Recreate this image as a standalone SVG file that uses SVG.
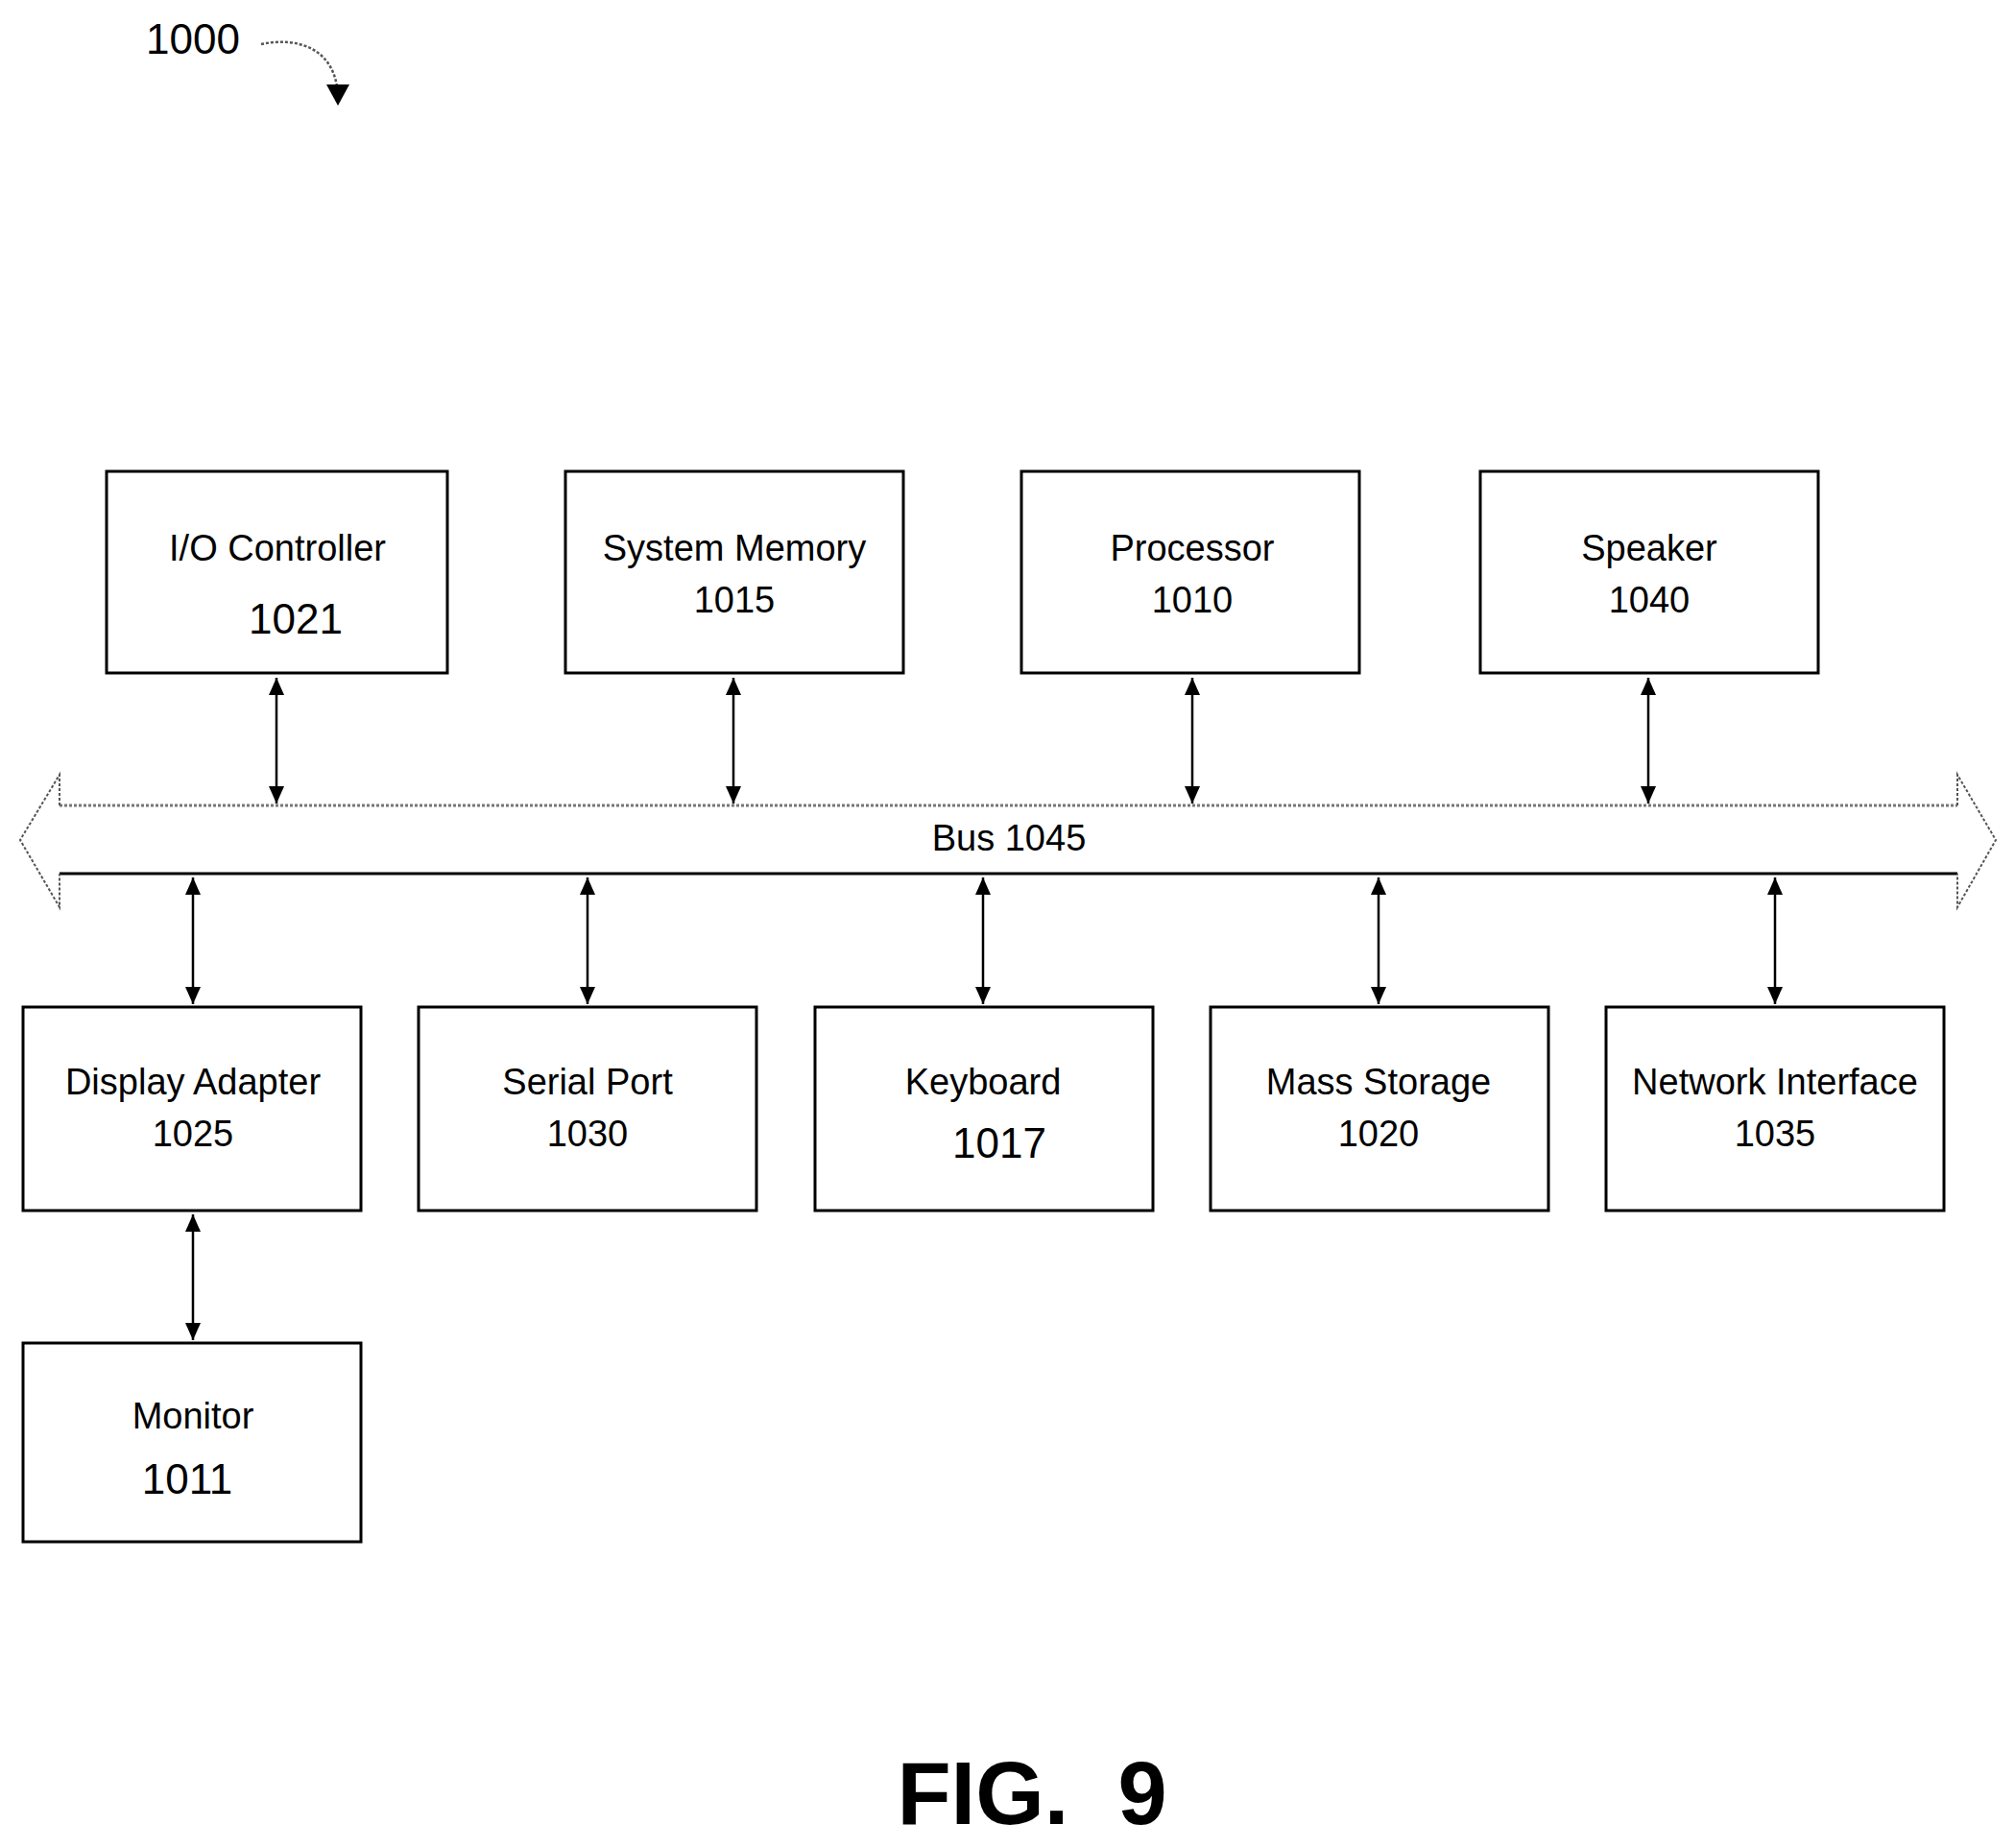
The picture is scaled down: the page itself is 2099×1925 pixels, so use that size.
<svg xmlns="http://www.w3.org/2000/svg" width="2099" height="1925" viewBox="0 0 2099 1925">
<style>
rect{fill:#fff;stroke:#000;stroke-width:3}
text{font-family:"Liberation Sans",Arial,sans-serif;text-anchor:middle;fill:#000}
.n{font-size:38px}
.c{stroke:#000;stroke-width:2.5;fill:none;marker-start:url(#a);marker-end:url(#a)}
</style>
<defs><marker id="a" viewBox="-20 -10 22 20" refX="0" refY="0" markerWidth="22" markerHeight="20" markerUnits="userSpaceOnUse" orient="auto-start-reverse"><path d="M-18,-8 L0,0 L-18,8 z" fill="#000"/></marker></defs>
<rect width="2099" height="1925" style="stroke:none"/>
<text x="201" y="56" style="font-size:44px">1000</text>
<path d="M272,46 C310,38 350,50 352,100" fill="none" stroke="#555" stroke-width="2.5" stroke-dasharray="3,2"/>
<path d="M340,88 L352,110 L364,88z" fill="#000"/>
<g id="bus">
<path d="M62,839 H2039 V807 L2079,875 L2039,945 V910 H62 V945 L21,875 L62,807 Z" fill="#fff" stroke="none"/>
<path d="M62,839 H2039" stroke="#777" stroke-width="3" stroke-dasharray="3,2"/>
<path d="M62,910 H2039" stroke="#000" stroke-width="3"/>
<path d="M62,839 V807 L21,875 L62,945 V910 M2039,839 V807 L2079,875 L2039,945 V910" fill="none" stroke="#555" stroke-width="2" stroke-dasharray="3,2"/>
<text class="n" x="1051" y="886">Bus 1045</text>
</g>
<g id="io"><rect x="111" y="491" width="355" height="210"/><text class="n" x="289" y="584">I/O Controller</text><text x="308" y="660" style="font-size:44px">1021</text></g>
<g id="mem"><rect x="589" y="491" width="352" height="210"/><text class="n" x="765" y="584">System Memory</text><text class="n" x="765" y="638">1015</text></g>
<g id="proc"><rect x="1064" y="491" width="352" height="210"/><text class="n" x="1242" y="584">Processor</text><text class="n" x="1242" y="638">1010</text></g>
<g id="spk"><rect x="1542" y="491" width="352" height="210"/><text class="n" x="1718" y="584">Speaker</text><text class="n" x="1718" y="638">1040</text></g>
<g id="disp"><rect x="24" y="1049" width="352" height="212"/><text class="n" x="201" y="1140">Display Adapter</text><text class="n" x="201" y="1194">1025</text></g>
<g id="ser"><rect x="436" y="1049" width="352" height="212"/><text class="n" x="612" y="1140">Serial Port</text><text class="n" x="612" y="1194">1030</text></g>
<g id="kb"><rect x="849" y="1049" width="352" height="212"/><text class="n" x="1024" y="1140">Keyboard</text><text x="1041" y="1206" style="font-size:44px">1017</text></g>
<g id="ms"><rect x="1261" y="1049" width="352" height="212"/><text class="n" x="1436" y="1140">Mass Storage</text><text class="n" x="1436" y="1194">1020</text></g>
<g id="net"><rect x="1673" y="1049" width="352" height="212"/><text class="n" x="1849" y="1140">Network Interface</text><text class="n" x="1849" y="1194">1035</text></g>
<g id="mon"><rect x="24" y="1399" width="352" height="207"/><text class="n" x="201" y="1488">Monitor</text><text x="195" y="1556" style="font-size:44px">1011</text></g>
<g id="connectors">
<path class="c" d="M288,706 V837"/><path class="c" d="M764,706 V837"/><path class="c" d="M1242,706 V837"/><path class="c" d="M1717,706 V837"/>
<path class="c" d="M201,914 V1046"/><path class="c" d="M612,914 V1046"/><path class="c" d="M1024,914 V1046"/><path class="c" d="M1436,914 V1046"/><path class="c" d="M1849,914 V1046"/>
<path class="c" d="M201,1265 V1396"/>
</g>
<text x="1075" y="1900" xml:space="preserve" style="font-size:92px;font-weight:bold">FIG.  9</text>
</svg>
